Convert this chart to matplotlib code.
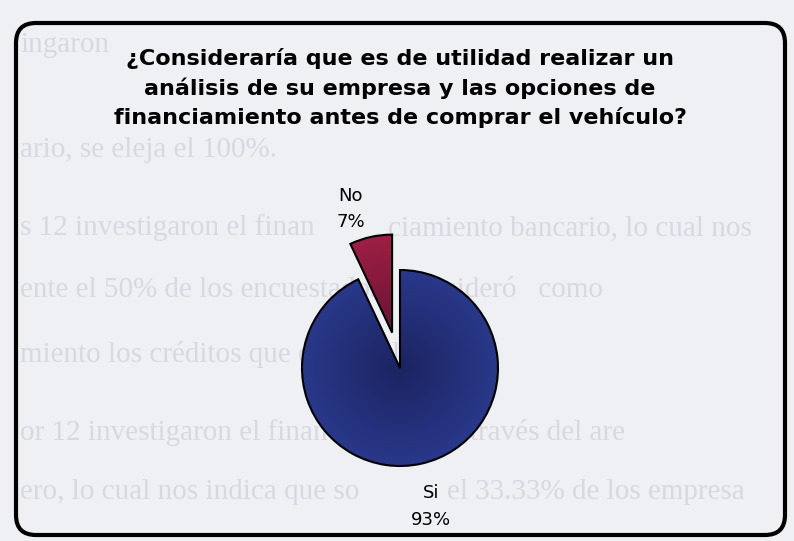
'''
Pie chart: utilidad de analizar la empresa antes de comprar el vehiculo.
'''
from matplotlib import pyplot as plt
from matplotlib.patches import FancyBboxPatch
import numpy as np

# ------------------------- data -------------------------------
categories = ["Si", "No"]
values = [93, 7]
title_lines = ["¿Consideraría que es de utilidad realizar un",
               "análisis de su empresa y las opciones de",
               "financiamiento antes de comprar el vehículo?"]
# faint page text showing through the scan (pieces hidden by the
# chart labels are left out)
bleed_text = ["ingaron",
              "ario, se eleja el 100%.",
              "s 12 investigaron el finan",
              "ciamiento bancario, lo cual nos",
              "ente el 50% de los encuestados   consideró   como",
              "miento los créditos que otorga el banco.",
              "or 12 investigaron el financiamiento a través del are",
              "ero, lo cual nos indica que so",
              "el 33.33% de los empresa"]
bleed_x = [20, 20, 20, 388, 20, 20, 20, 20, 447]
bleed_y = [45, 150, 228, 228, 290, 355, 433, 492, 492]


def radial_fill(ax, wedge, inner, outer):
    # gradient from the tip of the wedge to its rim, clipped to the wedge
    cx, cy = wedge.center
    r = wedge.r
    n = 200
    g = np.linspace(-1, 1, n)
    xx, yy = np.meshgrid(g, g)
    d = np.clip(np.sqrt(xx**2 + yy**2), 0, 1)[..., None]
    img = (1 - d) * np.array(inner) + d * np.array(outer)
    im = ax.imshow(img, extent=[cx - r, cx + r, cy - r, cy + r],
                   origin="lower", zorder=0.5, interpolation="bilinear")
    im.set_clip_path(wedge)
    wedge.set_facecolor("none")


def main():
    W, H = 794, 541
    fig = plt.figure(figsize=(W / 100, H / 100), dpi=100)
    fig.patch.set_facecolor("#eff0f4")
    # ------------- background: page text and frame -------------
    bg = fig.add_axes([0, 0, 1, 1])
    bg.set_xlim(0, W)
    bg.set_ylim(H, 0)
    bg.axis("off")
    for txt, x, y in zip(bleed_text, bleed_x, bleed_y):
        bg.text(x, y, txt, fontsize=21, family="Liberation Serif",
                color="#d7d9e0", va="center", ha="left")
    box = FancyBboxPatch((16, 23), 769, 512,
                         boxstyle="round,pad=0,rounding_size=20",
                         fill=False, lw=3, ec="black", zorder=3)
    bg.add_patch(box)
    bg.text(400, 88, "\n".join(title_lines), fontsize=16,
            family="DejaVu Sans", fontweight="bold",
            ha="center", va="center", linespacing=1.5, zorder=4)
    # ------------------------ pie -------------------------------
    rpx = 98.
    cx, cy = 400., H - 368.
    ax = fig.add_axes([0, 0, 1, 1])
    ax.patch.set_alpha(0)
    labels = ["%s\n%d%%" % (c, v) for c, v in zip(categories, values)]
    wedges, texts = ax.pie(values, labels=labels, startangle=90,
                           counterclock=False, explode=[0, 0.37],
                           wedgeprops={"edgecolor": "black",
                                       "linewidth": 1.5},
                           textprops={"fontsize": 13,
                                      "family": "DejaVu Sans",
                                      "linespacing": 1.6})
    ax.set_aspect("auto")
    ax.set_xlim(-cx / rpx, (W - cx) / rpx)
    ax.set_ylim(-cy / rpx, (H - cy) / rpx)
    ax.axis("off")
    # label placement a bit further out, as in the original
    label_dist = [1.45, 1.33]
    label_dang = [0., 6.]
    for w, t, d, da in zip(wedges, texts, label_dist, label_dang):
        ang = np.deg2rad(0.5 * (w.theta1 + w.theta2) + da)
        x0, y0 = w.center
        t.set_position((x0 + d * w.r * np.cos(ang),
                        y0 + d * w.r * np.sin(ang)))
        t.set_ha("center")
    radial_fill(ax, wedges[0], (0.11, 0.14, 0.38), (0.16, 0.22, 0.54))
    radial_fill(ax, wedges[1], (0.40, 0.08, 0.20), (0.62, 0.12, 0.27))
    fig.savefig("out.png", dpi=100)
    plt.close(fig)


if __name__ == '__main__':
    main()
